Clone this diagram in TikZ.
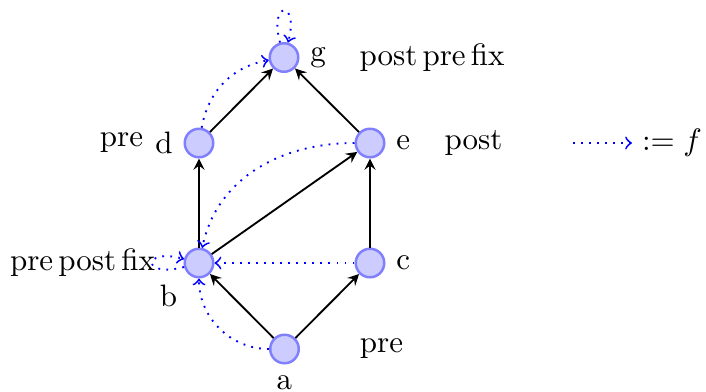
\documentclass[tikz,border=0pt]{standalone}
\usetikzlibrary{arrows}
\begin{document}
\begin{tikzpicture}[x=0.3226pt,y=-0.3226pt,
  vert/.style={circle,draw=blue!50,fill=blue!20,thick,minimum size=9.2pt,inner sep=0pt},
  edge/.style={-stealth,black,semithick},
  fmap/.style={->,blue,dotted,semithick}]
\useasboundingbox (0,0) rectangle (706,391);
% vertices
\node[vert,label=below:a] (a) at (284.5,349) {};
\node[vert,label=below left:b] (b) at (199,263) {};
\node[vert,label=right:c] (c) at (370,263) {};
\node[vert,label=left:d] (d) at (199,143) {};
\node[vert,label=right:e] (e) at (370,143) {};
\node[vert,label=right:g] (g) at (284,57.5) {};
% annotations
\node (tg) at (432,57.5) {post\,pre\,fix};
\node (td) at (121.5,143) {pre};
\node (te) at (473.5,143) {post};
\node (tb) at (82.5,263) {pre\,post\,fix};
\node (ta) at (381.5,349) {pre};
% order edges
\draw[edge] (a) -- (b);
\draw[edge] (a) -- (c);
\draw[edge] (b) -- (d);
\draw[edge] (b) -- (e);
\draw[edge] (c) -- (e);
\draw[edge] (d) -- (g);
\draw[edge] (e) -- (g);
% map f
\draw[fmap] (a) to[out=180,in=270] (b);
\draw[fmap] (b) to[loop left] (b);
\draw[fmap] (c) -- (b);
\draw[fmap] (d) to[out=80,in=190] (g);
\draw[fmap] (e) to[out=180,in=78] (b);
\draw[fmap] (g) to[loop above] (g);
% legend
\coordinate (l1) at (573,143);
\coordinate (l2) at (632,143);
\draw[fmap] (l1) -- (l2);
\node (leg) at (672,143) {$:= f$};
\end{tikzpicture}
\end{document}
